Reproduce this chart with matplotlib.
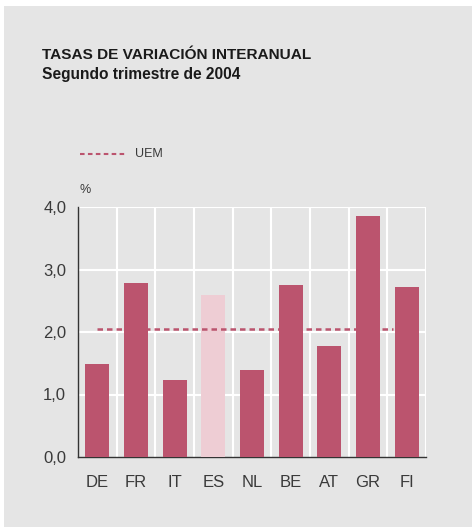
import matplotlib
matplotlib.use("Agg")
import matplotlib.pyplot as plt
from matplotlib.patches import Rectangle

categories = ["DE", "FR", "IT", "ES", "NL", "BE", "AT", "GR", "FI"]
values = [1.49, 2.78, 1.23, 2.59, 1.39, 2.75, 1.78, 3.86, 2.72]
uem_value = 2.05
y_ticks = [0.0, 1.0, 2.0, 3.0, 4.0]
y_tick_labels = ["0,0", "1,0", "2,0", "3,0", "4,0"]

plt.rcParams['font.family'] = ['Liberation Sans', 'DejaVu Sans']

bg = "#e5e5e5"
bar_c = "#bb546e"
es_c = "#eecdd4"
txt = "#3a3a3a"

fig = plt.figure(figsize=(4.72, 5.29), dpi=100)
fig.patch.set_facecolor("white")
fig.patches.append(Rectangle((4/472, 2/529), 468/472, 521/529, transform=fig.transFigure,
                             facecolor=bg, edgecolor="none", zorder=-10))

ax = fig.add_axes([78/472, (529-457)/529, 348/472, 250/529])
ax.set_facecolor(bg)
x = list(range(len(categories)))
colors = [es_c if c == "ES" else bar_c for c in categories]
ax.bar(x, values, width=0.62, color=colors, zorder=3)
ax.plot([0, 7.65], [uem_value, uem_value], linestyle=(0, (2.2, 1.6)), color=bar_c, lw=1.8, zorder=4)

ax.set_xlim(-0.5, len(categories) - 0.5)
ax.set_ylim(0, 4.0)
ax.set_yticks(y_ticks)
ax.set_yticklabels(y_tick_labels)
ax.set_xticks(x)
ax.set_xticklabels(categories)
ax.grid(False)
for yv in y_ticks[1:]:
    ax.axhline(yv, color="white", lw=1.5, zorder=1)
for xv in [i + 0.5 for i in x]:
    ax.axvline(xv, color="white", lw=1.5, zorder=1)
ax.tick_params(axis="both", which="both", length=0, labelsize=12, colors=txt)
ax.tick_params(axis="x", pad=13)
ax.tick_params(axis="y", pad=8.5)
for s in ["top", "right"]:
    ax.spines[s].set_visible(False)
for s in ["left", "bottom"]:
    ax.spines[s].set_color("#333333")
    ax.spines[s].set_linewidth(1.0)

fig.text(42/472, 1 - 55/529, "TASAS DE VARIACIÓN INTERANUAL", fontsize=11.1, color="#1a1a1a",
         va="center", ha="left", fontweight="bold")
fig.text(42/472, 1 - 74/529, "Segundo trimestre de 2004", fontsize=11.2, color="#1a1a1a",
         va="center", ha="left", fontweight="bold")

fig.lines.append(plt.Line2D([80/472, 126/472], [1 - 154/529, 1 - 154/529], transform=fig.transFigure,
                            color=bar_c, lw=1.5, linestyle=(0, (2.2, 1.6))))
fig.text(135/472, 1 - 154/529, "UEM", fontsize=9, color=txt, va="center", ha="left")
fig.text(80/472, 1 - 190/529, "%", fontsize=9, color=txt, va="center", ha="left")

fig.savefig("out.png", dpi=100, facecolor=fig.get_facecolor())
